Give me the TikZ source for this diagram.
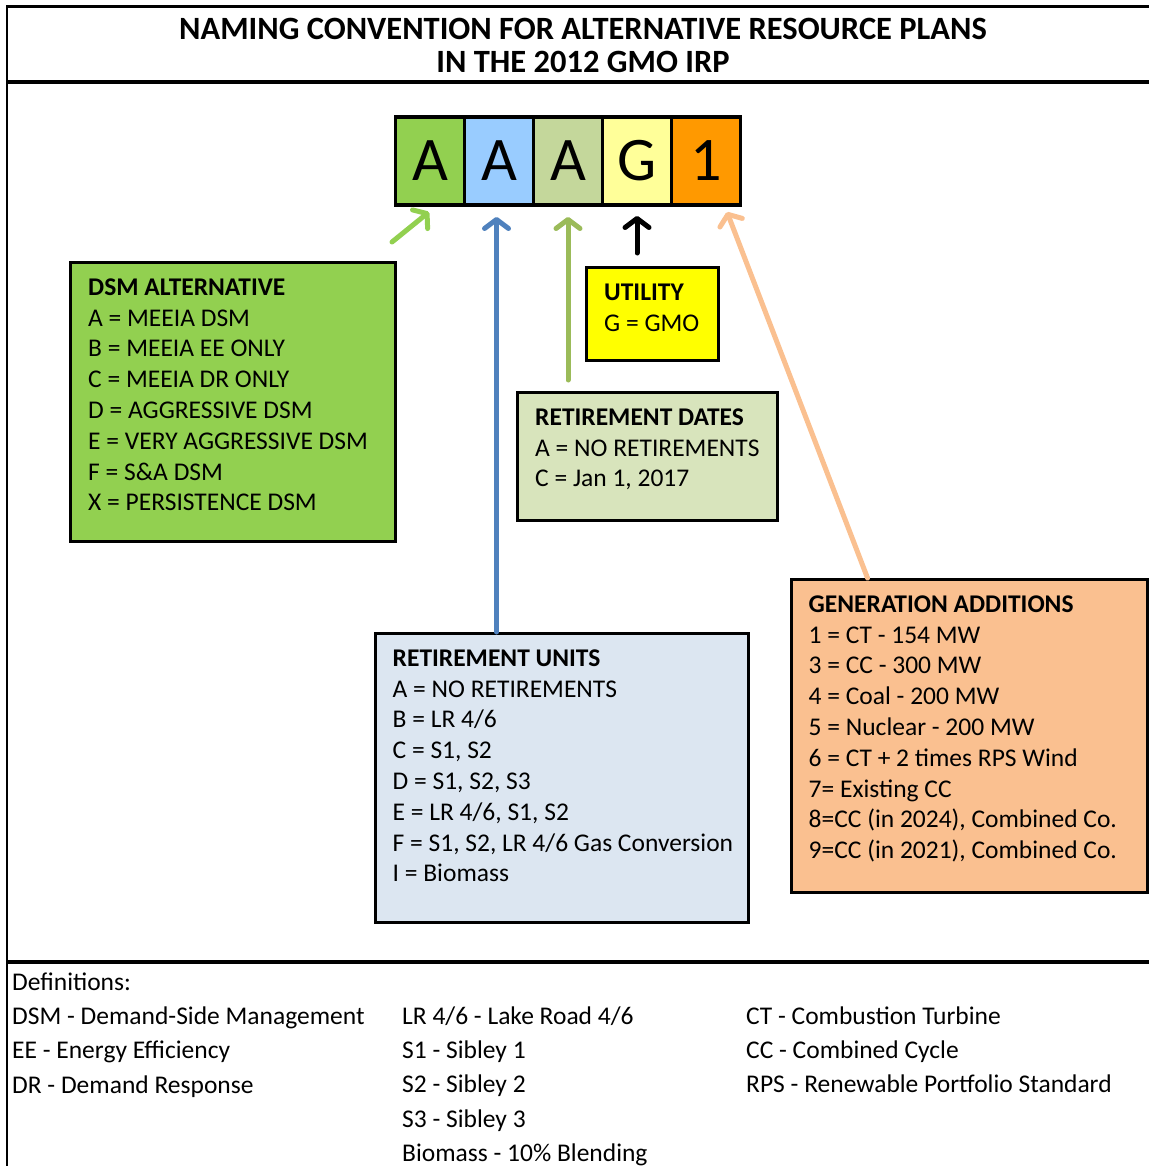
\documentclass[tikz,border=0pt]{standalone}
\usepackage{fontspec}
\setmainfont{Carlito}
\usepackage{tikz}
\usetikzlibrary{arrows.meta,positioning}
\usepackage{xcolor}

\definecolor{cellgreen}{HTML}{92D050}
\definecolor{cellblue}{HTML}{99CCFF}
\definecolor{cellsage}{HTML}{C4D79B}
\definecolor{cellyellow}{HTML}{FFFF99}
\definecolor{cellorange}{HTML}{FF9900}
\definecolor{dsmfill}{HTML}{92D050}
\definecolor{utilfill}{HTML}{FFFF00}
\definecolor{datesfill}{HTML}{D8E4BC}
\definecolor{unitsfill}{HTML}{DCE6F1}
\definecolor{genfill}{HTML}{FAC090}
\definecolor{arrgreen}{HTML}{92D050}
\definecolor{arrblue}{HTML}{4F81BD}
\definecolor{arrsage}{HTML}{9BBB59}
\definecolor{arrpeach}{HTML}{FAC090}

\newcommand\bodyfont{\fontsize{25.5}{30.8}\selectfont}
\newcommand\deffont{\fontsize{25.5}{34.3}\selectfont}
\newcommand\firststrut{\rule{0pt}{20pt}}

\begin{document}
\begin{tikzpicture}[x=1pt, y=-1pt,
    box/.style={draw, line width=3pt, anchor=north west, inner sep=0pt},
    boxtext/.style={anchor=north west, inner sep=0pt, align=left, font=\bodyfont},
    deftext/.style={anchor=north west, inner sep=0pt, align=left, font=\deffont},
    cell/.style={draw, line width=3.5pt, outer sep=0pt, minimum width=69pt, minimum height=88pt, inner sep=0pt, font=\fontsize{62}{62}\selectfont},
    arr/.style={line width=5pt, line cap=round, -{Straight Barb[length=9pt,width=24pt,round]}}]
        \useasboundingbox (0,0) rectangle (1149,1166);
        % frame
        \draw[line width=2.7pt] (7,1166) -- (7,6.5) -- (1149,6.5);
        \draw[line width=4pt] (7,82) -- (1149,82);
        \draw[line width=4pt] (7,962) -- (1149,962);
        \node[font=\bfseries\fontsize{32.5}{33}\selectfont, align=center, inner sep=0pt] (title) at (583,45) {NAMING CONVENTION FOR ALTERNATIVE RESOURCE PLANS\\IN THE 2012 GMO IRP};

        % plan name
        \node[cell, fill=cellgreen] (cdsm) at (430,161) {A};
        \node[cell, fill=cellblue, right=0pt of cdsm] (cunits) {A};
        \node[cell, fill=cellsage, right=0pt of cunits] (cdates) {A};
        \node[cell, fill=cellyellow, right=0pt of cdates] (cutil) {G};
        \node[cell, fill=cellorange, right=0pt of cutil] (cgen) {1};

        % boxes
        \node[box, fill=dsmfill, minimum width=325pt, minimum height=279pt] (dsm) at (69,261) {};
        \node[boxtext] (dsmtext) at ([xshift=19pt,yshift=-14pt]dsm.north west) {\firststrut\textbf{DSM ALTERNATIVE}\\A = MEEIA DSM\\B = MEEIA EE ONLY\\C = MEEIA DR ONLY\\D = AGGRESSIVE DSM\\E = VERY AGGRESSIVE DSM\\F = S\&A DSM\\X = PERSISTENCE DSM};
        \node[box, fill=utilfill, minimum width=132pt, minimum height=93pt] (util) at (585,266) {};
        \node[boxtext] (utiltext) at ([xshift=19pt,yshift=-14pt]util.north west) {\firststrut\textbf{UTILITY}\\G = GMO};
        \node[box, fill=datesfill, minimum width=260pt, minimum height=128pt] (dates) at (516,391) {};
        \node[boxtext] (datestext) at ([xshift=19pt,yshift=-14pt]dates.north west) {\firststrut\textbf{RETIREMENT DATES}\\A = NO RETIREMENTS\\C = Jan 1, 2017};
        \node[box, fill=unitsfill, minimum width=373pt, minimum height=289pt] (units) at (374,632) {};
        \node[boxtext] (unitstext) at ([xshift=18.5pt,yshift=-14pt]units.north west) {\firststrut\textbf{RETIREMENT UNITS}\\A = NO RETIREMENTS\\B = LR 4/6\\C = S1, S2\\D = S1, S2, S3\\E = LR 4/6, S1, S2\\F = S1, S2, LR 4/6 Gas Conversion\\I = Biomass};
        \node[box, fill=genfill, minimum width=356pt, minimum height=313pt] (gen) at (790,578) {};
        \node[boxtext] (gentext) at ([xshift=18.5pt,yshift=-14pt]gen.north west) {\firststrut\textbf{GENERATION ADDITIONS}\\1 = CT - 154 MW\\3 = CC - 300 MW\\4 = Coal - 200 MW\\5 = Nuclear - 200 MW\\6 = CT + 2 times RPS Wind\\7= Existing CC\\8=CC (in 2024), Combined Co.\\9=CC (in 2021), Combined Co.};

        % arrows
        \coordinate (dsmtail) at (392,242);
        \coordinate (unitstip) at ([xshift=-2.5pt,yshift=-12pt]cunits.south);
        \coordinate (datestip) at ([yshift=-12pt]cdates.south);
        \coordinate (utiltip) at ([yshift=-11pt]cutil.south);
        \coordinate (gentip) at ([xshift=21pt,yshift=-7pt]cgen.south);
        \draw[arr, arrgreen] (dsmtail) -- ([xshift=-1pt,yshift=-7pt]cdsm.south);
        \draw[arr, arrblue] (unitstip |- units.north) -- (unitstip);
        \draw[arr, arrsage] ([yshift=11pt]datestip |- dates.north) -- (datestip);
        \draw[arr, black] ([yshift=13pt]utiltip |- util.north) -- (utiltip);
        \draw[arr, arrpeach] ([xshift=-102pt]gen.north) -- (gentip);

        % definitions
        \node[deftext] (defone) at (12,970) {\firststrut Definitions:\\DSM - Demand-Side Management\\EE - Energy Efficiency\\DR - Demand Response};
        \node[deftext] (deftwo) at (402,1004) {\firststrut LR 4/6 - Lake Road 4/6\\S1 - Sibley 1\\S2 - Sibley 2\\S3 - Sibley 3\\Biomass - 10\% Blending};
        \node[deftext] (defthree) at (746,1004) {\firststrut CT - Combustion Turbine\\CC - Combined Cycle\\RPS - Renewable Portfolio Standard};
    \end{tikzpicture}
\end{document}
